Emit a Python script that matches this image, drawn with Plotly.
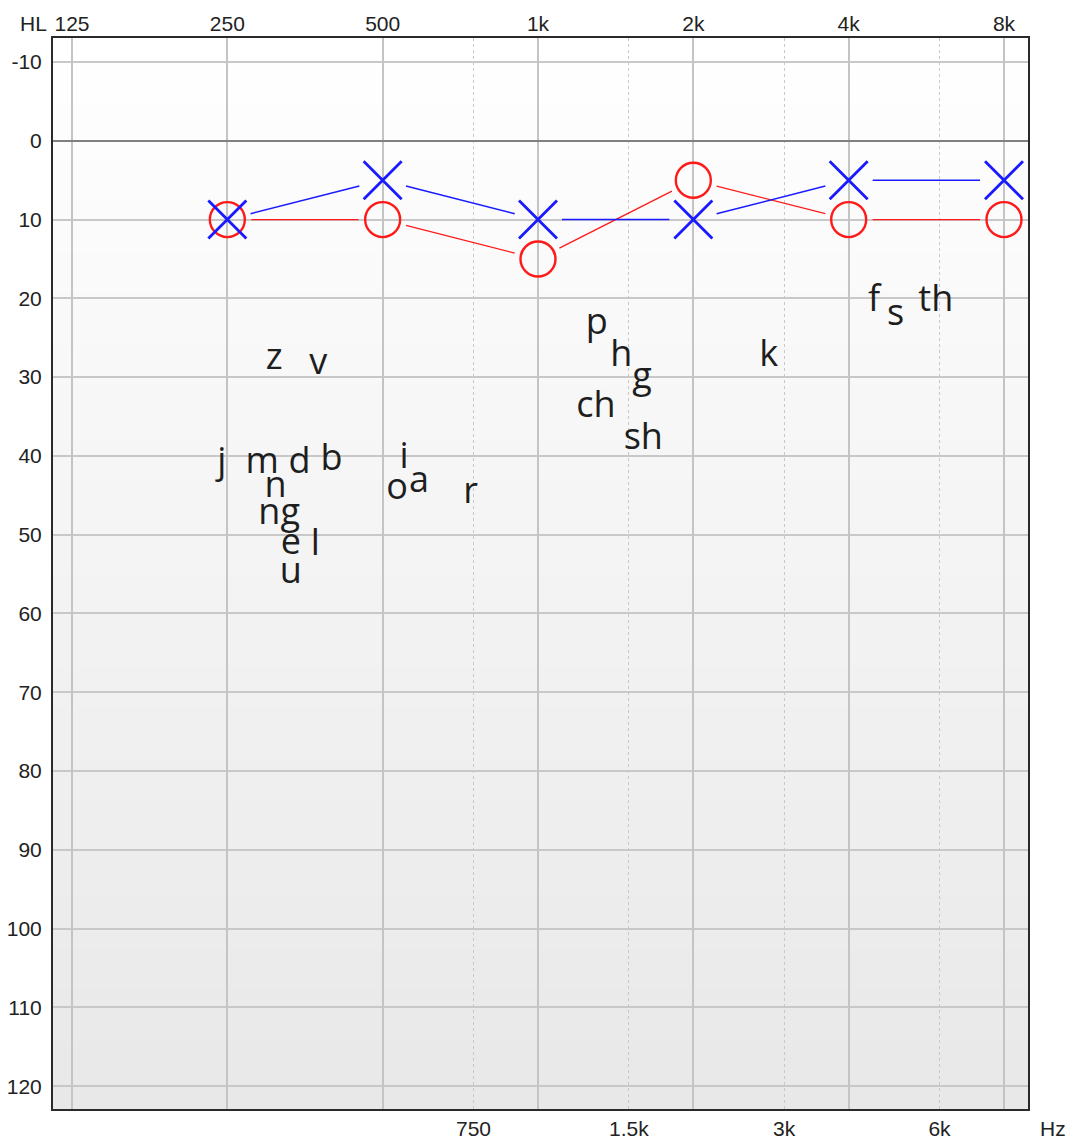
import math
import plotly.graph_objects as go

# ---------------- data ----------------
freqs = [250, 500, 1000, 2000, 4000, 8000]
right_ear = [10, 10, 15, 5, 10, 10]   # red O
left_ear = [10, 5, 10, 10, 5, 5]      # blue X

octave_ticks = [125, 250, 500, 1000, 2000, 4000, 8000]
octave_labels = ["125", "250", "500", "1k", "2k", "4k", "8k"]
mid_ticks = [750, 1500, 3000, 6000]
mid_labels = ["750", "1.5k", "3k", "6k"]
db_ticks = list(range(-10, 121, 10))
db_labels = [str(v) for v in db_ticks]

phonemes = ["z", "v", "j", "m", "d", "b", "n", "ng", "e", "l", "u",
            "i", "o", "a", "r", "p", "h", "g", "ch", "sh", "k", "f", "s", "th"]
phoneme_freq = [308, 375, 244, 292, 345, 398, 310, 315, 332, 370, 332,
                550, 533, 588, 740, 1300, 1450, 1590, 1295, 1600, 2800, 4480, 4930, 5900]
phoneme_db = [27.8, 28.5, 41.0, 41.0, 41.0, 40.7, 44.1, 47.5, 51.3, 51.4, 55.0,
              40.4, 44.3, 43.4, 44.8, 23.4, 27.4, 30.2, 33.9, 38.0, 27.4, 20.4, 22.3, 20.4]

# ---------------- layout constants ----------------
OFF = 8                        # page body margin
W, H = 1076 - OFF, 1142 - OFF
ML, MR, MT, MB = 53 - OFF, 48, 38 - OFF, 33
PW, PH = W - ML - MR, H - MT - MB
XR = [2.0601, 3.9496]          # log10 range
YR = [122.9, -13.05]           # reversed dB range
GAP = 24                       # px gap of connecting lines from symbols


def to_px(f, d):
    x = (math.log10(f) - XR[0]) / (XR[1] - XR[0]) * PW
    y = (d - YR[1]) / (YR[0] - YR[1]) * PH
    return x, y


def from_px(x, y):
    f = 10 ** (XR[0] + x / PW * (XR[1] - XR[0]))
    d = YR[1] + y / PH * (YR[0] - YR[1])
    return f, d


def gapped_segments(fs, ds):
    xs, ys = [], []
    for i in range(len(fs) - 1):
        x0, y0 = to_px(fs[i], ds[i])
        x1, y1 = to_px(fs[i + 1], ds[i + 1])
        L = math.hypot(x1 - x0, y1 - y0)
        ux, uy = (x1 - x0) / L, (y1 - y0) / L
        a = from_px(x0 + ux * GAP, y0 + uy * GAP)
        b = from_px(x1 - ux * GAP, y1 - uy * GAP)
        xs += [a[0], b[0], None]
        ys += [a[1], b[1], None]
    return xs, ys


fig = go.Figure()

rx, ry = gapped_segments(freqs, right_ear)
lx, ly = gapped_segments(freqs, left_ear)

fig.add_trace(go.Scatter(x=rx, y=ry, mode="lines", line=dict(color="#ff1a1a", width=1.3),
                         hoverinfo="skip", showlegend=False))
fig.add_trace(go.Scatter(x=lx, y=ly, mode="lines", line=dict(color="#1a1aff", width=1.5),
                         hoverinfo="skip", showlegend=False))
fig.add_trace(go.Scatter(x=freqs, y=right_ear, mode="markers", name="Right",
                         marker=dict(symbol="circle-open", size=35, color="#ff1a1a",
                                     line=dict(width=2.4, color="#ff1a1a")),
                         showlegend=False))
fig.add_trace(go.Scatter(x=freqs, y=left_ear, mode="markers", name="Left",
                         marker=dict(symbol="x-thin-open", size=38, color="#1a1aff",
                                     line=dict(width=2.8, color="#1a1aff")),
                         showlegend=False))

fig.add_trace(go.Scatter(x=phoneme_freq, y=phoneme_db, mode="text", text=phonemes,
                         textposition="middle center",
                         textfont=dict(family="Open Sans", size=36, color="#1e1e1e"),
                         hoverinfo="skip", showlegend=False))

# invisible trace for top axis
fig.add_trace(go.Scatter(x=[125, 8000], y=[0, 0], xaxis="x2", mode="markers",
                         marker=dict(opacity=0), hoverinfo="skip", showlegend=False))

# background gradient bands
N = 80
shapes = []
for i in range(N):
    t = (i + 0.5) / N
    v = round(255 - (255 - 232) * t)
    col = f"rgb({v},{v},{v})"
    shapes.append(dict(type="rect", xref="x domain", yref="y domain",
                       x0=0, x1=1, y0=1 - i / N, y1=1 - (i + 1) / N - 0.001,
                       fillcolor=col, line=dict(width=0), layer="below"))

tickfont = dict(family="Liberation Sans", size=21, color="#222222")

fig.update_layout(
    width=W, height=H,
    margin=dict(l=ML, r=MR, t=MT, b=MB, autoexpand=False),
    paper_bgcolor="white",
    plot_bgcolor="rgba(0,0,0,0)",
    shapes=shapes,
    xaxis=dict(type="log", range=XR, tickvals=mid_ticks, ticktext=mid_labels,
               showgrid=True, gridcolor="#c8c8c8", gridwidth=1, griddash="dot",
               showline=True, mirror=True, linecolor="#2a2a2a", linewidth=2,
               ticks="", tickfont=tickfont, ticklabelstandoff=0, zeroline=False,
               automargin=False),
    xaxis2=dict(type="log", range=XR, overlaying="x", side="top", anchor="y",
                tickvals=octave_ticks, ticktext=octave_labels,
                showgrid=True, gridcolor="#c4c4c4", gridwidth=1.6,
                showline=False, ticks="", tickfont=tickfont, ticklabelstandoff=2,
                zeroline=False, automargin=False),
    yaxis=dict(range=YR, tickvals=db_ticks, ticktext=db_labels,
               showgrid=True, gridcolor="#c8c8c8", gridwidth=1.6,
               zeroline=True, zerolinecolor="#808080", zerolinewidth=1.6,
               showline=True, mirror=True, linecolor="#2a2a2a", linewidth=2,
               ticks="", tickfont=tickfont, ticklabelstandoff=5, automargin=False),
    annotations=[
        dict(text="HL", xref="paper", yref="paper", x=(33 - 53) / PW, y=1 + (38 - 23) / PH,
             showarrow=False, font=tickfont, xanchor="center", yanchor="middle"),
        dict(text="Hz", xref="paper", yref="paper", x=(1053 - 53) / PW, y=-(1128 - 1109) / PH,
             showarrow=False, font=tickfont, xanchor="center", yanchor="middle"),
    ],
)

fig.write_html("out.html")
